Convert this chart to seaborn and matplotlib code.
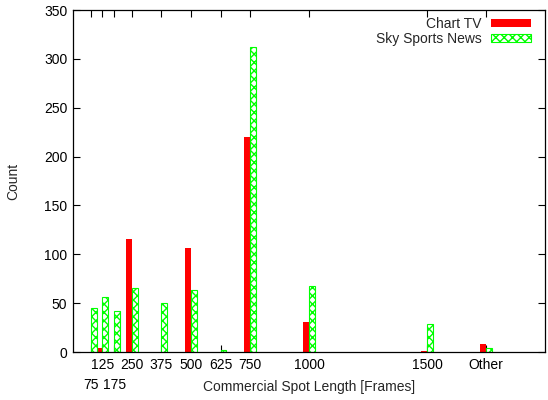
import pandas as pd
import seaborn as sns
import matplotlib.pyplot as plt

# spot lengths in frames, "Other" placed at 1750 on the axis
lengths = [75, 125, 175, 250, 375, 500, 625, 750, 1000, 1500, 1750]
upper_ticks = [125, 250, 375, 500, 625, 750, 1000, 1500, 1750]
upper_labels = ['125', '250', '375', '500', '625', '750', '1000', '1500', 'Other']
lower_ticks = [75, 175]
lower_labels = ['75', '175']
chart_tv = [0, 4, 0, 116, 0, 106, 0, 220, 31, 1, 8]
sky_sports = [45, 56, 42, 66, 50, 63, 2, 312, 68, 29, 4]

df = pd.DataFrame({
    'length': lengths * 2,
    'channel': ['Chart TV'] * len(lengths) + ['Sky Sports News'] * len(lengths),
    'count': chart_tv + sky_sports,
})

sns.set_style('ticks')
plt.rcParams['font.family'] = ['Liberation Sans', 'DejaVu Sans']
plt.rcParams['hatch.linewidth'] = 1.0

fig = plt.figure(figsize=(5.48, 4.0), dpi=100)
ax = fig.add_axes([0.133, 0.12, 0.862, 0.855])

sns.barplot(data=df, x='length', y='count', hue='channel', native_scale=True,
            width=1.0, palette=['#ff0000', '#00ff00'], saturation=1,
            ax=ax, legend=False)

for p in ax.containers[0]:
    p.set_linewidth(0)
for p in ax.containers[1]:
    p.set_facecolor('white')
    p.set_edgecolor('#00ff00')
    p.set_hatch('xxxx')
    p.set_linewidth(0.8)

ax.set_xlim(0, 2000)
ax.set_ylim(0, 350)
ax.set_yticks(range(0, 351, 50))
ax.set_xticks(upper_ticks, labels=upper_labels)
ax.set_xticks(lower_ticks, labels=lower_labels, minor=True)
ax.tick_params(which='both', direction='in', top=True, right=True, length=5,
               width=0.8, labelsize=10, colors='black', pad=4)
ax.tick_params(axis='x', which='minor', pad=19)
for s in ax.spines.values():
    s.set_visible(True)
    s.set_color('black')
    s.set_linewidth(0.9)

ax.set_xlabel('Commercial Spot Length [Frames]', fontsize=10)
ax.xaxis.set_label_coords(0.5, -0.082)
ax.set_ylabel('Count', fontsize=10, labelpad=17)

ax.legend(handles=[ax.containers[0][0], ax.containers[1][0]],
          labels=['Chart TV', 'Sky Sports News'],
          loc='upper right', bbox_to_anchor=(0.997, 1.016), frameon=False,
          markerfirst=False, handlelength=2.9, handleheight=0.5,
          fontsize=10, labelspacing=0.06, handletextpad=0.7)

plt.savefig('out.png', dpi=100)
